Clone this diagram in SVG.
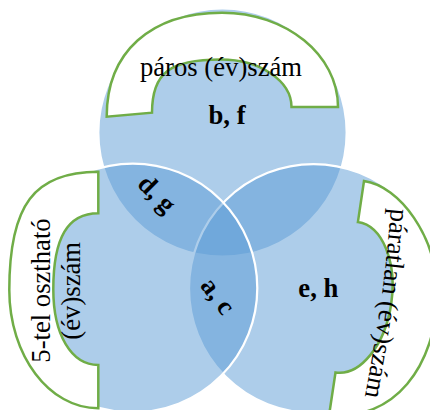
<svg xmlns="http://www.w3.org/2000/svg" width="430" height="410" viewBox="0 0 430 410">
<style>
.set{fill:#5B9BD5;fill-opacity:.5;stroke:#fff;stroke-width:2.25}
.lbl{fill:#fff;stroke:#70AD47;stroke-width:2.5;stroke-linejoin:miter}
.t{font-family:"Liberation Serif","Times New Roman",serif;font-size:26.67px;fill:#000}
.b{font-weight:bold}
</style>
<defs>
<path id="arcR" d="M391,207 Q384,300 364.5,398"/>
</defs>
<rect width="430" height="410" fill="#fff"/>
<g id="set-paros"><circle class="set" cx="222.5" cy="132.5" r="124.2"/></g>
<g id="set-paratlan"><circle class="set" cx="313.5" cy="288.5" r="124.5"/></g>
<g id="set-5tel"><circle class="set" cx="132.8" cy="288" r="124.5"/></g>
<g id="label-paros">
<path class="lbl" d="M106.7,116.7 C106.7,52.2 150.5,12.7 222,12.7 C286.1,12.7 338,54.9 338,107 L291.5,107 C291.5,80.8 259.9,59.5 221,59.5 C169.3,59.5 152,72.8 152,112.7 Z"/>
<text class="t" x="221" y="76" text-anchor="middle">páros (év)szám</text>
</g>
<g id="label-5tel">
<path class="lbl" d="M98.3,171.7 C34.2,171.7 9.3,204.8 9.3,290 C9.3,355.3 49.1,408.3 98.3,408.3 L98.3,365 C71.3,365 53.3,334.7 53.3,289.2 C53.3,237.7 67.7,213.3 98.3,213.3 Z"/>
<text class="t" text-anchor="middle" transform="translate(50,290.5) rotate(-90)">5-tel osztható</text>
<text class="t" text-anchor="middle" transform="translate(80,290.8) rotate(-90)">(év)szám</text>
</g>
<g id="label-paratlan">
<path class="lbl" d="M364,181 C400,186 437,237 437,293 C437,365.6 393.4,422.6 329.2,414.3 L335.5,372.5 C360.1,376.1 385,345.5 391.2,304 C397.4,262.4 382.5,225.8 357.9,222.1 Z"/>
<text class="t"><textPath href="#arcR" startOffset="50%" text-anchor="middle">páratlan (év)szám</textPath></text>
</g>
<g id="region-bf"><text class="t b" x="227" y="124" text-anchor="middle">b, f</text></g>
<g id="region-dg"><text class="t b" text-anchor="middle" transform="translate(150.8,200) rotate(45)">d, g</text></g>
<g id="region-ac"><text class="t b" text-anchor="middle" transform="translate(211,301) rotate(53)">a, c</text></g>
<g id="region-eh"><text class="t b" x="318.3" y="296.5" text-anchor="middle">e, h</text></g>
</svg>
